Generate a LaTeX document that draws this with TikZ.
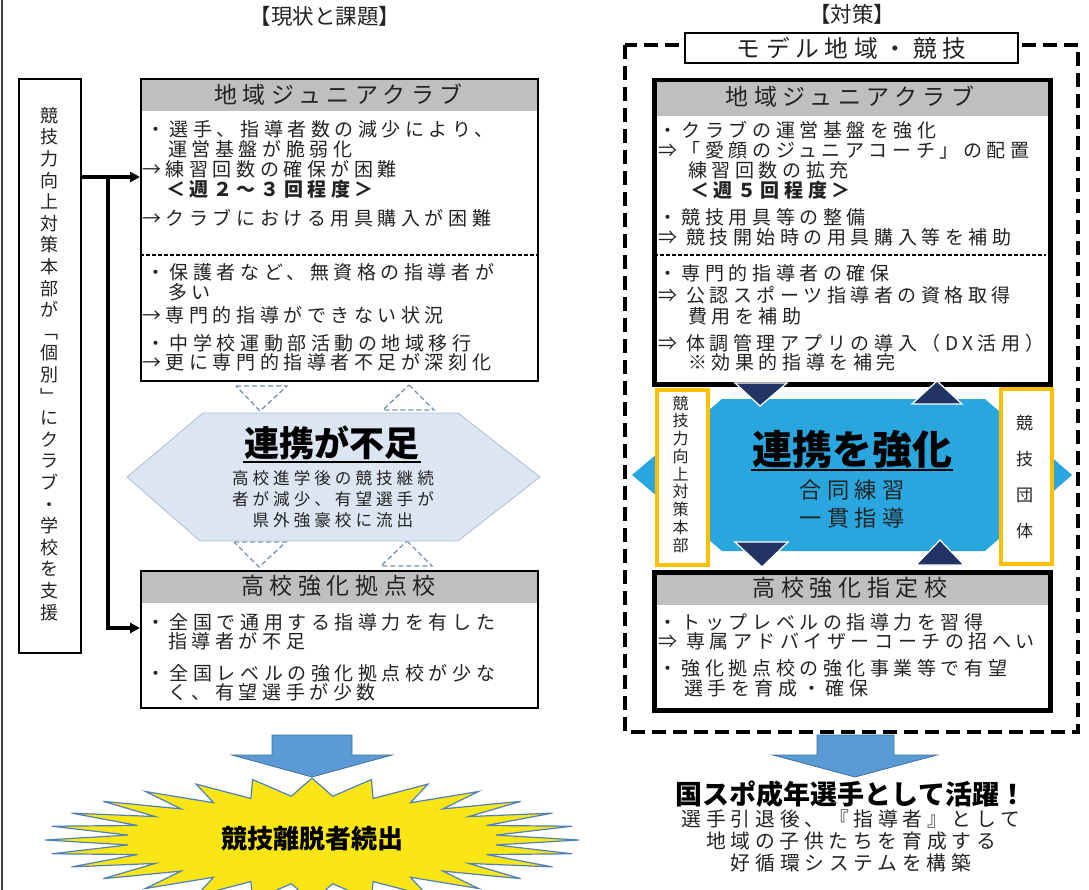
\documentclass[tikz,border=0pt]{standalone}
\usepackage{fontspec}
\usetikzlibrary{arrows.meta,calc}
\setmainfont{Noto Sans CJK JP}[LetterSpace=24]
\newfontfamily\jpt{Noto Sans CJK JP}
\definecolor{hdrgray}{RGB}{191,191,191}
\definecolor{txtc}{RGB}{35,35,35}
\definecolor{coopblue}{RGB}{41,166,222}
\definecolor{navy}{RGB}{33,52,100}
\definecolor{orangeb}{RGB}{255,192,0}
\definecolor{hexfill}{RGB}{220,230,242}
\definecolor{hexline}{RGB}{175,190,210}
\definecolor{dtric}{RGB}{120,145,175}
\definecolor{arrfill}{RGB}{91,155,213}
\definecolor{arrline}{RGB}{65,113,156}
\definecolor{burstfill}{RGB}{250,230,20}
\definecolor{burstline}{RGB}{79,129,189}
\tikzset{
  lbox/.style={draw=black, line width=1.8pt, fill=white, inner sep=0, anchor=north west},
  rbox/.style={draw=black, line width=4.5pt, fill=white, inner sep=0, anchor=north west},
  hdr/.style={path picture={\fill[hdrgray] (path picture bounding box.north west) rectangle ([yshift=-#1]path picture bounding box.north east);}},
  hdrtxt/.style={inner sep=0, text=txtc, font=\fontsize{23}{28}\selectfont},
  txt/.style={anchor=west, inner sep=0, text=txtc, font=\fontsize{19}{22}\selectfont},
  sep/.style={line width=1.2pt, dash pattern=on 4pt off 2pt},
  conn/.style={line width=3.5pt, -{Triangle[length=10pt,width=10pt]}},
  dtri/.style={draw=dtric, line width=1.3pt, dash pattern=on 5pt off 3pt},
  ntri/.style={fill=navy, draw=white, line width=1.2pt},
  orbox/.style={draw=orangeb, line width=3.5pt, fill=white, inner sep=0, anchor=north west},
  bigarrow/.style={fill=arrfill, draw=arrline, line width=0.8pt},
  vtxt/.style={align=center, inner sep=0, text=txtc},
}
\begin{document}
\begin{tikzpicture}[x=1pt,y=-1pt]
\useasboundingbox (0,0) rectangle (1089,890);
\fill[white] (0,0) rectangle (1089,890);
% left page edge
\draw[line width=2pt, black!75] (2,0) -- (2,890);

% titles
\node[inner sep=0, text=txtc, font=\jpt\fontsize{21.5}{24}\selectfont] (titleL) at (325,16) {【現状と課題】};
\node[inner sep=0, text=txtc, font=\jpt\fontsize{21.5}{24}\selectfont] (titleR) at (852,14) {【対策】};

% ===== LEFT SIDE =====
\node[lbox, minimum width=62pt, minimum height=574pt] (hq) at (18,78) {};
\node[vtxt, font=\jpt\fontsize{18}{21.6}\selectfont] (hqtxt) at (49,364) {競\\技\\力\\向\\上\\対\\策\\本\\部\\が\\﹁\\個\\別\\﹂\\に\\ク\\ラ\\ブ\\・\\学\\校\\を\\支\\援};

\node[lbox, hdr=32pt, minimum width=397pt, minimum height=302pt] (clubL) at (140,78) {};
\node[hdrtxt] (clubLh) at (338.5,95) {地域ジュニアクラブ};
\draw[sep] (140,255) -- (537,255);
\node[txt] (cl1) at (146,129) {・選手、指導者数の減少により、};
\node[txt] (cl2) at (168,149) {運営基盤が脆弱化};
\node[txt] (cl3) at (142,169) {→練習回数の確保が困難};
\node[txt, font=\bfseries\fontsize{19}{22}\selectfont] (cl4) at (166,189) {＜週２～３回程度＞};
\node[txt] (cl5) at (142,218) {→クラブにおける用具購入が困難};
\node[txt] (cl6) at (146,272) {・保護者など、無資格の指導者が};
\node[txt] (cl7) at (168,292) {多い};
\node[txt] (cl8) at (142,315) {→専門的指導ができない状況};
\node[txt] (cl9) at (146,343) {・中学校運動部活動の地域移行};
\node[txt] (cl10) at (142,362) {→更に専門的指導者不足が深刻化};

\node[lbox, hdr=32pt, minimum width=397pt, minimum height=137pt] (schoolL) at (140,570) {};
\node[hdrtxt] (schoolLh) at (338.5,586) {高校強化拠点校};
\node[txt] (sl1) at (146,622) {・全国で通用する指導力を有した};
\node[txt] (sl2) at (168,641) {指導者が不足};
\node[txt] (sl3) at (146,673) {・全国レベルの強化拠点校が少な};
\node[txt] (sl4) at (168,692) {く、有望選手が少数};

% connectors
\coordinate (jt) at (108,177);
\coordinate (jb) at (108,628);
\draw[conn] (hq.east |- jt) -- (clubL.west |- jt);
\draw[conn] (jt) -- (jb) -- (schoolL.west |- jb);

% dashed triangles
\draw[dtri] (236,386) -- (287,386) -- (260,411) -- cycle;
\draw[dtri] (409,385) -- (434,410) -- (383,410) -- cycle;
\draw[dtri] (234,542) -- (286,542) -- (259,567) -- cycle;
\draw[dtri] (407,541) -- (432,566) -- (381,566) -- cycle;

% hexagon
\draw[fill=hexfill, draw=hexline, line width=0.8pt] (127,477) -- (203,413) -- (458,413) -- (540,477) -- (458,541) -- (200,541) -- cycle;
\node[inner sep=1pt, text=black, font=\jpt\bfseries\fontsize{35}{38}\selectfont] (lack) at (332,443) {連携が不足};
\draw[line width=1.6pt] ([yshift=-1pt]lack.south west) -- ([yshift=-1pt]lack.south east);
\node[vtxt, font=\fontsize{16.6}{21}\selectfont] (lacktxt) at (333,499) {高校進学後の競技継続\\者が減少、有望選手が\\県外強豪校に流出};

% left big arrow
\draw[bigarrow] (272,735) -- (352,735) -- (352,755) -- (392,755) -- (312,777) -- (232,755) -- (272,755) -- cycle;

% starburst
\filldraw[fill=burstfill, draw=burstline, line width=1.2pt] plot[variable=\k, samples at={0,...,55}] ({312+ifthenelse(mod(\k,2)==0,267,185)*cos(\k*180/28)}, {840+ifthenelse(mod(\k,2)==0,62,44)*sin(\k*180/28)}) -- cycle;
\node[inner sep=0, text=black, font=\jpt\bfseries\fontsize{26}{30}\selectfont] (exodus) at (312,839) {競技離脱者続出};

% ===== RIGHT SIDE =====
\draw[line width=4pt, dash pattern=on 14pt off 7pt] (625,45) rectangle (1078,732);
\node[draw=black, line width=1.2pt, fill=white, minimum width=333pt, minimum height=30pt, inner sep=0, text=txtc, font=\fontsize{23.7}{28}\selectfont] (model) at (851.5,48) {モデル地域・競技};

\node[rbox, hdr=36pt, minimum width=396pt, minimum height=304pt] (clubR) at (652,78) {};
\node[hdrtxt] (clubRh) at (850,97) {地域ジュニアクラブ};
\draw[sep] (654,255) -- (1046,255);
\node[txt] (cr1) at (658,130) {・クラブの運営基盤を強化};
\node[txt] (cr2) at (658,150) {⇒「愛顔のジュニアコーチ」の配置};
\node[txt] (cr3) at (688,170) {練習回数の拡充};
\node[txt, font=\bfseries\fontsize{19}{22}\selectfont] (cr4) at (690,190) {＜週５回程度＞};
\node[txt] (cr5) at (658,217) {・競技用具等の整備};
\node[txt] (cr6) at (658,237) {⇒ 競技開始時の用具購入等を補助};
\node[txt] (cr7) at (658,273) {・専門的指導者の確保};
\node[txt] (cr8) at (658,295) {⇒ 公認スポーツ指導者の資格取得};
\node[txt] (cr9) at (688,316) {費用を補助};
\node[txt] (cr10) at (658,343) {⇒ 体調管理アプリの導入（DX活用）};
\node[txt] (cr11) at (688,362) {※効果的指導を補完};

% central blue shape
\fill[coopblue] (632,475) -- (722,399) -- (985,399) -- (1072,475) -- (985,551) -- (722,551) -- cycle;
\node[orbox, minimum width=51pt, minimum height=175pt] (hqR) at (655,388) {};
\node[vtxt, font=\jpt\fontsize{16}{17.75}\selectfont] (hqRtxt) at (680.5,474) {競\\技\\力\\向\\上\\対\\策\\本\\部};
\node[orbox, minimum width=51pt, minimum height=175pt] (assoc) at (999,387) {};
\node[vtxt, font=\jpt\fontsize{17}{35.7}\selectfont] (assoctxt) at (1024.5,477) {競\\技\\団\\体};

\node[inner sep=1pt, text=black, font=\jpt\bfseries\fontsize{40}{44}\selectfont] (coop) at (852,449) {連携を強化};
\draw[line width=1.8pt] ([yshift=-1pt]coop.south west) -- ([yshift=-1pt]coop.south east);
\node[vtxt, font=\fontsize{22.2}{28}\selectfont] (cooptxt) at (852,504) {合同練習\\一貫指導};

% navy triangles
\draw[ntri] (735,383) -- (787,383) -- (760,406) -- cycle;
\draw[ntri] (937,381) -- (962,404) -- (912,404) -- cycle;
\draw[ntri] (735,542) -- (788,542) -- (762,567) -- cycle;
\draw[ntri] (940,540) -- (964,565) -- (916,565) -- cycle;

\node[rbox, hdr=33pt, minimum width=396pt, minimum height=138pt] (schoolR) at (652,570) {};
\node[hdrtxt] (schoolRh) at (850,588) {高校強化指定校};
\node[txt] (sr1) at (658,622) {・トップレベルの指導力を習得};
\node[txt] (sr2) at (658,641) {⇒ 専属アドバイザーコーチの招へい};
\node[txt] (sr3) at (658,668) {・強化拠点校の強化事業等で有望};
\node[txt] (sr4) at (684,688) {選手を育成・確保};

% right big arrow
\draw[bigarrow] (817,735) -- (894,735) -- (894,755) -- (937,755) -- (855,777) -- (773,755) -- (817,755) -- cycle;

\node[inner sep=0, text=black, font=\jpt\bfseries\fontsize{27}{30}\selectfont] (result) at (851,794) {国スポ成年選手として活躍！};
\node[vtxt, font=\fontsize{19.8}{22}\selectfont] (resulttxt) at (851,841) {選手引退後、『指導者』として\\地域の子供たちを育成する\\好循環システムを構築};
\end{tikzpicture}
\end{document}
